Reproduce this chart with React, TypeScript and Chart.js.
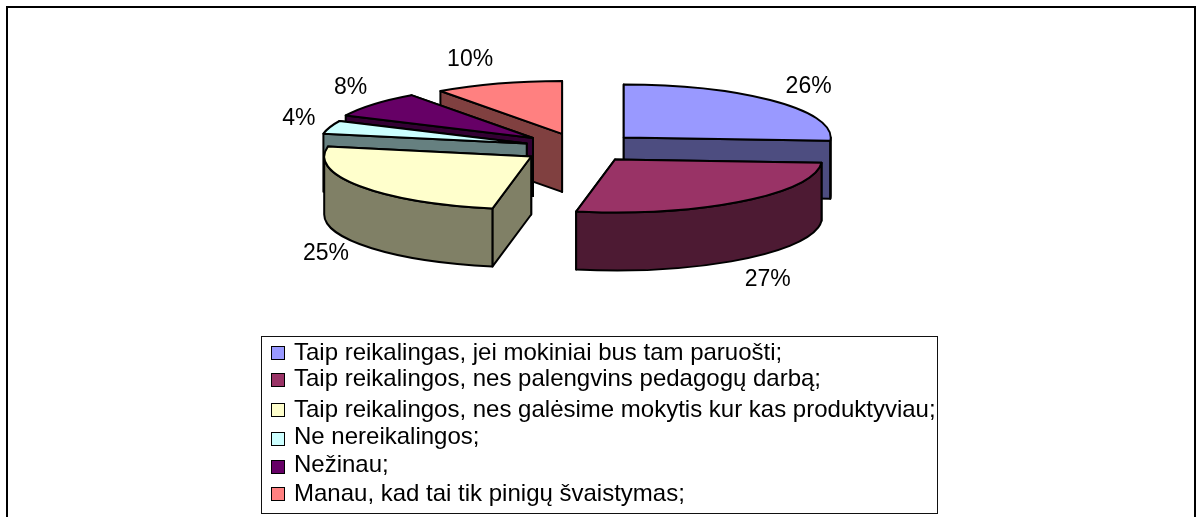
import React, { useEffect, useRef } from "react";
import { Chart, registerables } from "chart.js";

Chart.register(...registerables);

const categories = [
  "Taip reikalingas, jei mokiniai bus tam paruošti;",
  "Taip reikalingos, nes palengvins pedagogų darbą;",
  "Taip reikalingos, nes galėsime mokytis kur kas produktyviau;",
  "Ne nereikalingos;",
  "Nežinau;",
  "Manau, kad tai tik pinigų švaistymas;",
];
const values = [26, 27, 25, 4, 8, 10];
const topColors = ["#9999FF", "#993366", "#FFFFCC", "#CCFFFF", "#660066", "#FF8080"];
const sideColors = ["#4D4D80", "#4D1A33", "#808066", "#668080", "#330033", "#804040"];
const explode = [60, 57, 59, 56, 61, 58];

// layout
const W = 1197;
const H = 517;
const SQUASH = 53 / 207;
const DEPTH = 58;
const PAINT_ORDER = [5, 0, 4, 3, 2, 1];
const LABEL_NUDGE = [
  [34, -15],
  [26, 78],
  [-34, 67],
  [-31, -9],
  [-23, -17],
  [-28, -24],
];
const LEGEND_BOX = { l: 261, t: 336, r: 937, b: 513 };
const LEGEND_MARK_Y = [353, 380, 410, 439, 467, 494];
const LEGEND_BASELINE = [360, 386, 417, 444, 472, 501];
const FONT = "24px 'Liberation Sans', Arial, sans-serif";
const LABEL_FONT = "23px 'Liberation Sans', Arial, sans-serif";

const pie3d = {
  id: "pie3d",
  beforeDatasetsDraw(chart: any) {
    const ctx = chart.ctx as CanvasRenderingContext2D;
    const arcs = chart.getDatasetMeta(0).data as any[];
    const cyBase = chart.chartArea.top + chart.chartArea.height / 2;
    const geom = arcs.map((a) => {
      const o = a.options.offset || 0;
      const mid = (a.startAngle + a.endAngle) / 2;
      return {
        cx: a.x + Math.cos(mid) * o,
        cy: cyBase + Math.sin(mid) * o * SQUASH,
        r: a.outerRadius,
        s: a.startAngle,
        e: a.endAngle,
        mid,
      };
    });
    const ell = (g: any, t: number, dz = 0): [number, number] => [
      g.cx + g.r * Math.cos(t),
      g.cy + g.r * SQUASH * Math.sin(t) + dz,
    ];
    const arcPath = (g: any, from: number, to: number, dz: number) => {
      ctx.ellipse(g.cx, g.cy + dz, g.r, g.r * SQUASH, 0, from, to, to < from);
    };
    ctx.save();
    ctx.lineWidth = 2;
    ctx.lineJoin = "round";
    ctx.strokeStyle = "#000";
    for (const i of PAINT_ORDER) {
      const g = geom[i];
      // radial faces: the one turned away from the viewer goes first
      ctx.fillStyle = sideColors[i];
      const leftHalf = Math.cos(g.mid) < 0;
      for (const t of leftHalf ? [g.e, g.s] : [g.s, g.e]) {
        const p = ell(g, t);
        const q = ell(g, t, DEPTH);
        ctx.beginPath();
        ctx.moveTo(g.cx, g.cy);
        ctx.lineTo(p[0], p[1]);
        ctx.lineTo(q[0], q[1]);
        ctx.lineTo(g.cx, g.cy + DEPTH);
        ctx.closePath();
        ctx.fill();
        ctx.stroke();
      }
      // outer wall: only the part of the rim that faces the viewer
      const TAU = Math.PI * 2;
      const ranges = [
        [0, Math.PI],
        [TAU, TAU + Math.PI],
      ];
      for (const [lo, hi] of ranges) {
        const a = Math.max(g.s, lo);
        const b = Math.min(g.e, hi);
        if (b <= a) continue;
        ctx.beginPath();
        arcPath(g, a, b, 0);
        arcPath(g, b, a, DEPTH);
        ctx.closePath();
        ctx.fill();
        ctx.stroke();
      }
      // top face
      ctx.fillStyle = topColors[i];
      ctx.beginPath();
      ctx.moveTo(g.cx, g.cy);
      arcPath(g, g.s, g.e, 0);
      ctx.closePath();
      ctx.fill();
      ctx.stroke();
    }

    // percentage labels
    const total = values.reduce((x, y) => x + y, 0);
    ctx.fillStyle = "#000";
    ctx.font = LABEL_FONT;
    ctx.textAlign = "center";
    ctx.textBaseline = "middle";
    geom.forEach((g, i) => {
      const p = ell(g, g.mid);
      ctx.fillText(
        Math.round((values[i] / total) * 100) + "%",
        p[0] + LABEL_NUDGE[i][0],
        p[1] + LABEL_NUDGE[i][1]
      );
    });
    ctx.restore();
    return false;
  },
  afterDraw(chart: any) {
    const ctx = chart.ctx as CanvasRenderingContext2D;
    ctx.save();
    // outer frame (open at the bottom)
    ctx.strokeStyle = "#000";
    ctx.lineWidth = 2;
    ctx.beginPath();
    ctx.moveTo(7, H);
    ctx.lineTo(7, 7);
    ctx.lineTo(1195, 7);
    ctx.lineTo(1195, H);
    ctx.stroke();
    // legend
    const b = LEGEND_BOX;
    ctx.lineWidth = 1;
    ctx.strokeStyle = "#111";
    ctx.strokeRect(b.l + 0.5, b.t + 0.5, b.r - b.l, b.b - b.t);
    ctx.font = FONT;
    ctx.textAlign = "left";
    ctx.textBaseline = "alphabetic";
    chart.data.labels.forEach((label: string, i: number) => {
      const y = LEGEND_MARK_Y[i];
      ctx.fillStyle = topColors[i];
      ctx.fillRect(271.5, y - 6.5, 13, 13);
      ctx.strokeStyle = "#000";
      ctx.strokeRect(271.5, y - 6.5, 13, 13);
      ctx.fillStyle = "#000";
      ctx.fillText(label, 294, LEGEND_BASELINE[i]);
    });
    ctx.restore();
  },
};

export default function App() {
  const ref = useRef<HTMLCanvasElement>(null);
  useEffect(() => {
    const chart = new Chart(ref.current as HTMLCanvasElement, {
      type: "pie",
      data: {
        labels: categories,
        datasets: [
          {
            data: values,
            backgroundColor: topColors,
            borderColor: "#000",
            borderWidth: 2,
            offset: explode,
          },
        ],
      },
      options: {
        animation: false,
        responsive: false,
        radius: 207,
        layout: { padding: { left: 0, right: 37, top: 0, bottom: 221 } },
        plugins: { legend: { display: false }, tooltip: { enabled: false } },
      },
      plugins: [pie3d],
    } as any);
    return () => chart.destroy();
  }, []);
  return (
    <div style={{ position: "absolute", left: 0, top: 0, width: W, height: H, background: "#fff" }}>
      <canvas ref={ref} width={W} height={H} style={{ display: "block" }} />
    </div>
  );
}
